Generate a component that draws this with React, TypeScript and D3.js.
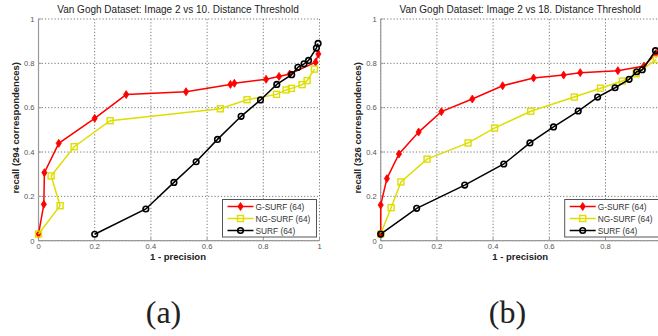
import React from "react";
import * as d3 from "d3";

const W = 658;
const H = 336;

const ticks = [0, 0.2, 0.4, 0.6, 0.8, 1];
const tickLabels = ["0", "0.2", "0.4", "0.6", "0.8", "1"];
const seriesNames = ["G-SURF (64)", "NG-SURF (64)", "SURF (64)"];
const seriesColors = ["#ff0000", "#dede00", "#000000"];
const seriesMarkers = ["diamond", "square", "circle"];

const titles = [
  "Van Gogh Dataset: Image 2 vs 10. Distance Threshold",
  "Van Gogh Dataset: Image 2 vs 18. Distance Threshold",
];
const yLabels = ["recall (294 correspondences)", "recall (326 correspondences)"];
const xLabel = "1 - precision";
const captions = ["(a)", "(b)"];

// Panel (a)
const aGsurfX = [0, 0.019, 0.021, 0.072, 0.2, 0.312, 0.525, 0.683, 0.697, 0.81, 0.856, 0.894, 0.986, 0.996];
const aGsurfY = [0.03, 0.164, 0.307, 0.439, 0.552, 0.659, 0.672, 0.705, 0.71, 0.728, 0.741, 0.752, 0.805, 0.842];
const aNgsurfX = [0, 0.077, 0.045, 0.127, 0.255, 0.647, 0.742, 0.847, 0.881, 0.9, 0.938, 0.956, 0.982];
const aNgsurfY = [0.03, 0.158, 0.292, 0.424, 0.541, 0.595, 0.636, 0.66, 0.68, 0.687, 0.704, 0.722, 0.774];
const aSurfX = [0.2, 0.382, 0.482, 0.561, 0.637, 0.721, 0.79, 0.848, 0.901, 0.923, 0.945, 0.961, 0.989, 0.995];
const aSurfY = [0.029, 0.143, 0.263, 0.356, 0.457, 0.561, 0.635, 0.705, 0.749, 0.782, 0.798, 0.813, 0.869, 0.89];

// Panel (b)
const bGsurfX = [0, 0, 0.022, 0.065, 0.135, 0.216, 0.326, 0.434, 0.544, 0.651, 0.71, 0.844, 0.937, 0.98];
const bGsurfY = [0.03, 0.161, 0.28, 0.391, 0.49, 0.582, 0.639, 0.699, 0.734, 0.747, 0.758, 0.767, 0.788, 0.845];
const bNgsurfX = [0, 0.037, 0.072, 0.165, 0.311, 0.405, 0.534, 0.689, 0.782, 0.86, 0.909, 0.981];
const bNgsurfY = [0.03, 0.149, 0.265, 0.368, 0.441, 0.508, 0.584, 0.648, 0.688, 0.72, 0.753, 0.818];
const bSurfX = [0, 0.128, 0.299, 0.438, 0.531, 0.615, 0.703, 0.772, 0.834, 0.884, 0.911, 0.931, 0.978];
const bSurfY = [0.03, 0.146, 0.251, 0.346, 0.441, 0.513, 0.585, 0.648, 0.69, 0.728, 0.762, 0.771, 0.857];

const panels = [
  { left: 38.5, xs: [aGsurfX, aNgsurfX, aSurfX], ys: [aGsurfY, aNgsurfY, aSurfY] },
  { left: 380.7, xs: [bGsurfX, bNgsurfX, bSurfX], ys: [bGsurfY, bNgsurfY, bSurfY] },
];

const TOP = 19;
const BOTTOM = 240.7;
const PW = 281;
const FONT = "'Liberation Sans', Arial, sans-serif";

function Marker({ type, x, y, color }: { type: string; x: number; y: number; color: string }) {
  if (type === "diamond") {
    return (
      <path
        d={`M${x},${y - 4}L${x + 2.6},${y}L${x},${y + 4}L${x - 2.6},${y}Z`}
        fill={color}
        stroke={color}
        strokeWidth={0.8}
      />
    );
  }
  if (type === "square") {
    return <rect x={x - 3} y={y - 3} width={6} height={6} fill="none" stroke={color} strokeWidth={1.4} />;
  }
  return <circle cx={x} cy={y} r={2.8} fill="none" stroke={color} strokeWidth={1.6} />;
}

function Panel({ idx }: { idx: number }) {
  const p = panels[idx];
  const x = d3.scaleLinear().domain([0, 1]).range([p.left, p.left + PW]);
  const y = d3.scaleLinear().domain([0, 1]).range([BOTTOM, TOP]);
  const line = d3
    .line<[number, number]>()
    .x((d) => x(d[0]))
    .y((d) => y(d[1]));
  const cx = p.left + PW / 2 - 1;
  const legX = p.left + PW - 97;
  const legY = 199.5;
  return (
    <g>
      {/* grid */}
      {ticks.map((t) => (
        <line key={"gx" + t} x1={x(t)} x2={x(t)} y1={TOP} y2={BOTTOM} stroke="#555" strokeWidth={0.8} strokeDasharray="1.2,2" />
      ))}
      {ticks.map((t) => (
        <line key={"gy" + t} x1={p.left} x2={p.left + PW} y1={y(t)} y2={y(t)} stroke="#555" strokeWidth={0.8} strokeDasharray="1.2,2" />
      ))}
      {/* axes */}
      <line x1={p.left} x2={p.left} y1={TOP} y2={BOTTOM} stroke="#999" strokeWidth={1.2} />
      <line x1={p.left} x2={p.left + PW} y1={BOTTOM} y2={BOTTOM} stroke="#999" strokeWidth={1.2} />
      {ticks.map((t) => (
        <line key={"tx" + t} x1={x(t)} x2={x(t)} y1={BOTTOM} y2={BOTTOM - 3} stroke="#999" />
      ))}
      {ticks.map((t) => (
        <line key={"ty" + t} x1={p.left} x2={p.left + 3} y1={y(t)} y2={y(t)} stroke="#999" />
      ))}
      {ticks.map((t, i) =>
        x(t) + 3 <= W ? (
          <text key={"lx" + t} x={x(t)} y={249} fontSize={7.6} fill="#555" textAnchor="middle" fontFamily={FONT}>
            {tickLabels[i]}
          </text>
        ) : null
      )}
      {ticks.map((t, i) => (
        <text key={"ly" + t} x={p.left - 4} y={y(t) + 2.8} fontSize={7.6} fill="#555" textAnchor="end" fontFamily={FONT}>
          {tickLabels[i]}
        </text>
      ))}
      {/* series */}
      {p.xs.map((xs, s) => {
        const pts = xs.map((v, i) => [v, p.ys[s][i]] as [number, number]);
        return (
          <g key={"s" + s}>
            <path d={line(pts) || ""} fill="none" stroke={seriesColors[s]} strokeWidth={1.5} />
            {pts.map((d, i) => (
              <Marker key={i} type={seriesMarkers[s]} x={x(d[0])} y={y(d[1])} color={seriesColors[s]} />
            ))}
          </g>
        );
      })}
      {/* title and labels */}
      <text x={cx} y={13} fontSize={10} fill="#222" textAnchor="middle" fontFamily={FONT}>
        {titles[idx]}
      </text>
      <text x={cx} y={260} fontSize={9.5} fontWeight="bold" fill="#222" textAnchor="middle" fontFamily={FONT}>
        {xLabel}
      </text>
      <text
        transform={`translate(${p.left - 20},${(TOP + BOTTOM) / 2 - 2}) rotate(-90)`}
        fontSize={9.5}
        fontWeight="bold"
        fill="#222"
        textAnchor="middle"
        fontFamily={FONT}
      >
        {yLabels[idx]}
      </text>
      {/* legend */}
      <rect x={legX} y={legY} width={94} height={37.5} fill="#fff" stroke="#555" strokeWidth={1} />
      {seriesNames.map((n, s) => {
        const ly = legY + 7 + s * 12;
        return (
          <g key={"lg" + s}>
            <line x1={legX + 5} x2={legX + 31} y1={ly} y2={ly} stroke={seriesColors[s]} strokeWidth={1.5} />
            <Marker type={seriesMarkers[s]} x={legX + 18} y={ly} color={seriesColors[s]} />
            <text x={legX + 33} y={ly + 3} fontSize={8.3} fill="#333" fontFamily={FONT}>
              {n}
            </text>
          </g>
        );
      })}
      <text x={idx === 0 ? 163.5 : 507.5} y={323} fontSize={32} fill="#222" textAnchor="middle" fontFamily="'Liberation Serif', 'DejaVu Serif', serif">
        {captions[idx]}
      </text>
    </g>
  );
}

export default function App() {
  return (
    <svg width={W} height={H} style={{ position: "absolute", left: 0, top: 0, background: "#fff" }}>
      <rect width={W} height={H} fill="#fff" />
      <Panel idx={0} />
      <Panel idx={1} />
    </svg>
  );
}
